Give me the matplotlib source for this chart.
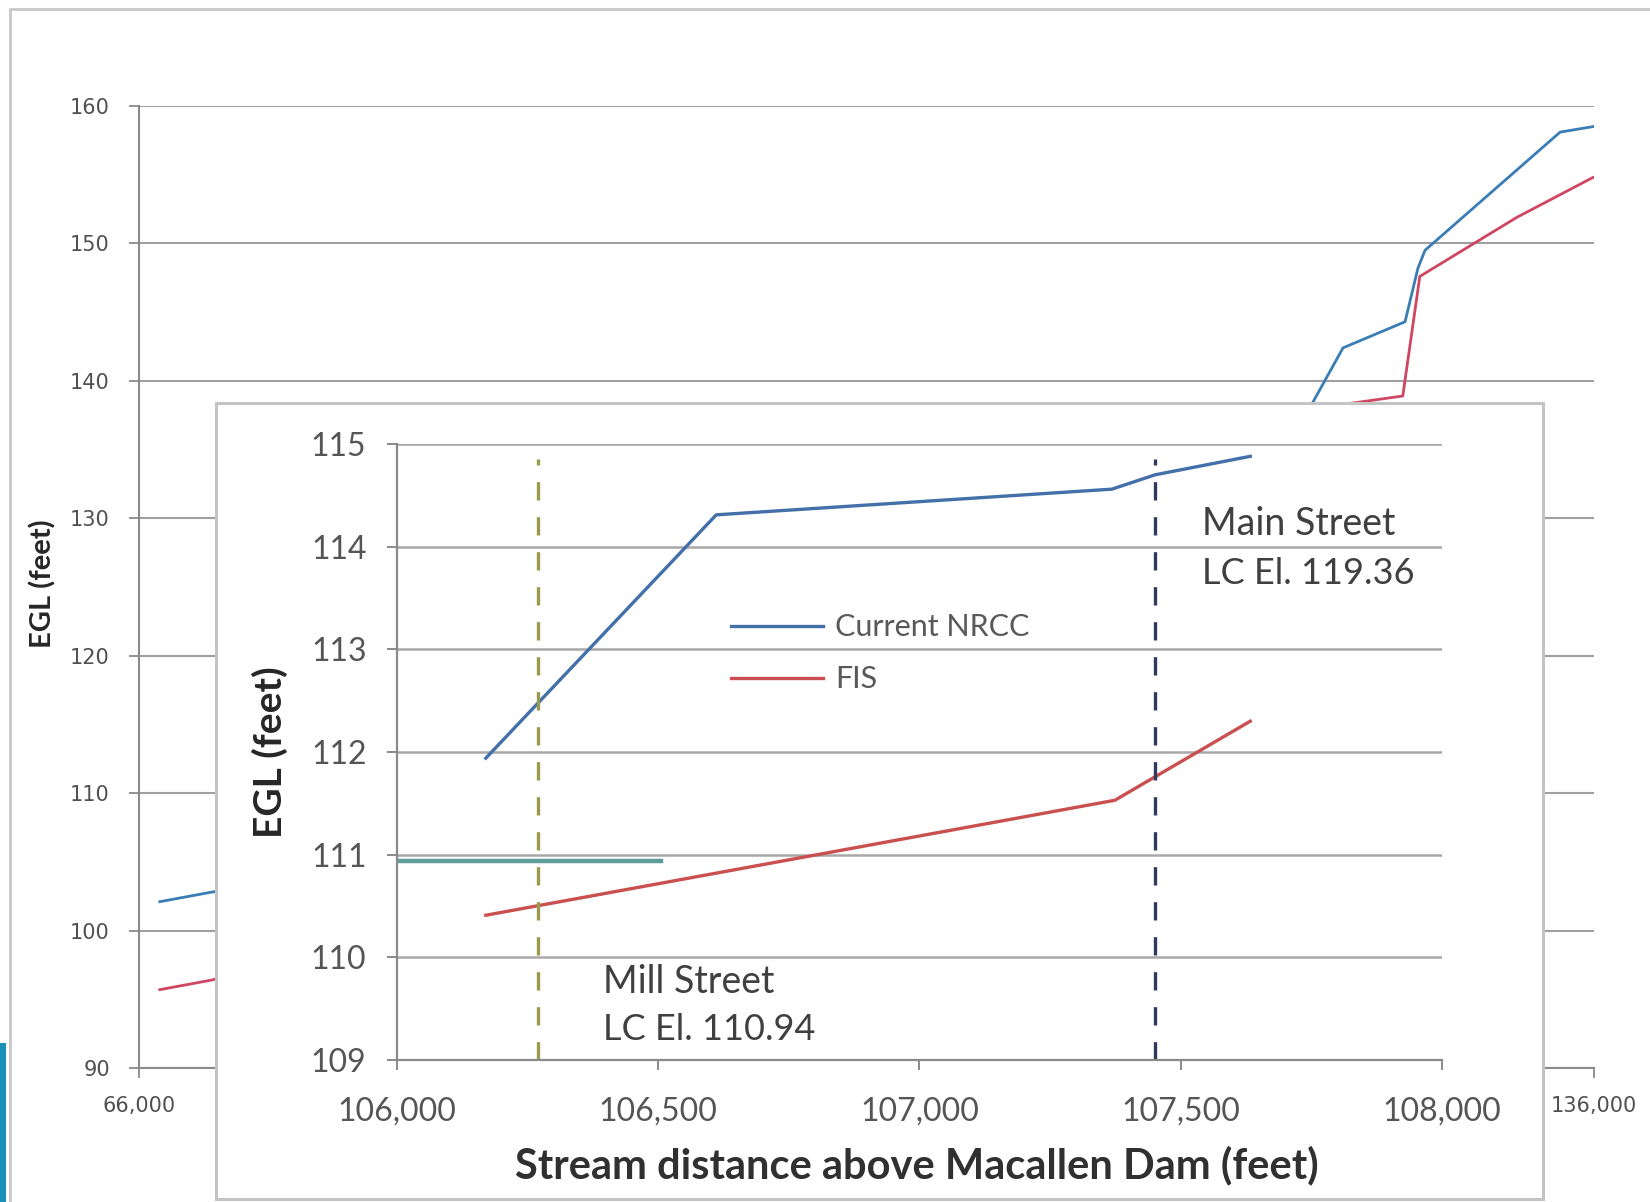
import matplotlib.pyplot as plt
from matplotlib.patches import Rectangle
from matplotlib.ticker import FuncFormatter

plt.rcParams['font.family'] = ['Lato', 'DejaVu Sans']

# ---------------- full reach profile (background chart) ----------------
reach_x_nrcc = [67000, 69500, 85000, 106200, 106600, 107400, 107650, 115000,
                121800, 123925, 126910, 127530, 127870, 134370, 135950]
reach_nrcc = [102.1, 102.8, 106.0, 112.0, 114.3, 114.6, 114.9, 125.0,
              136.6, 142.4, 144.3, 148.2, 149.5, 158.1, 158.5]
reach_x_fis = [67000, 69500, 106200, 107400, 107650, 124000, 126800,
               127620, 132290, 135950]
reach_fis = [95.7, 96.4, 110.4, 111.6, 112.3, 138.3, 138.9, 147.6, 151.9, 154.8]
reach_xticks = [66000, 136000]
reach_yticks = list(range(90, 161, 10))

# ---------------- detail between 106,000 and 108,000 ----------------
nrcc_x = [106170, 106611, 107368, 107451, 107633]
nrcc_egl = [111.94, 114.31, 114.56, 114.70, 114.88]
fis_x = [106170, 107374, 107633]
fis_egl = [110.41, 111.53, 112.30]
lc_x = [106000, 106505]
lc_egl = [110.94, 110.94]
bridge_names = ['Mill Street', 'Main Street']
bridge_x = [106270, 107450]
bridge_lc = [110.94, 119.36]
bridge_colors = ['#9a9a4c', '#2f3a5c']
detail_xticks = list(range(106000, 108001, 500))
detail_yticks = list(range(109, 116))

W, H = 1650, 1202
fig = plt.figure(figsize=(W / 100, H / 100), dpi=100)

comma = FuncFormatter(lambda v, p: f'{int(v):,}')

# outer frame
fig.add_artist(Rectangle((10 / W, -0.05), 1.0, 1 - 9 / H + 0.05, transform=fig.transFigure,
                         facecolor='none', edgecolor='#c8c8c8', lw=2.0, zorder=-1))

# ---------------- background chart ----------------
ax0 = fig.add_axes([139 / W, 1 - 1068 / H, 1455 / W, 962 / H])
ax0.set_zorder(0)
ax0.plot(reach_x_nrcc, reach_nrcc, color='#3a7db5', lw=2.0)
ax0.plot(reach_x_fis, reach_fis, color='#d04662', lw=2.0)
ax0.set_xlim(66000, 136000)
ax0.set_ylim(90, 160)
ax0.set_xticks(reach_xticks)
ax0.set_yticks(reach_yticks)
ax0.xaxis.set_major_formatter(comma)
ax0.grid(axis='y', color='#a0a0a0', lw=1.5)
ax0.set_axisbelow(True)
for s in ['top', 'right']:
    ax0.spines[s].set_visible(False)
for s in ['left', 'bottom']:
    ax0.spines[s].set_color('#8a8a8a')
    ax0.spines[s].set_linewidth(1.5)
ax0.tick_params(direction='out', length=7, width=1.3, color='#8a8a8a',
                labelsize=15, labelcolor='#505050')
ax0.tick_params(axis='y', pad=14)
ax0.tick_params(axis='x', pad=13)
for lab in ax0.get_xticklabels() + ax0.get_yticklabels():
    lab.set_family('DejaVu Sans')
ax0.set_ylabel('EGL (feet)', fontsize=21, fontweight='bold', color='#262626')
ax0.yaxis.set_label_coords(-0.057, 0.503)

# white panel holding the detail chart
fig.add_artist(Rectangle((216 / W, 1 - 1199 / H), (1543 - 216) / W, (1199 - 403) / H,
                         transform=fig.transFigure, facecolor='white',
                         edgecolor='#c4c4c4', lw=2.2, zorder=1))

# slide accent on the left edge
fig.add_artist(Rectangle((0, 1 - 1202 / H), 6 / W, (1202 - 1043) / H,
                         transform=fig.transFigure, facecolor='#1a8fb8',
                         edgecolor='none', zorder=3))

# ---------------- detail chart ----------------
ax1 = fig.add_axes([397 / W, 1 - 1060 / H, 1045 / W, 616 / H])
ax1.set_zorder(2)
ax1.set_facecolor('none')
ax1.plot(nrcc_x, nrcc_egl, color='#4470aa', lw=2.4, label='Current NRCC')
ax1.plot(fis_x, fis_egl, color='#c9504f', lw=2.4, label='FIS')
ax1.plot(lc_x, lc_egl, color='#5e9c9a', lw=3.2)
ax1.vlines(bridge_x, 109, 114.85, colors=bridge_colors, lw=2.4,
           linestyles=[(0, (5.5, 5))] * 2)
ax1.set_xlim(106000, 108000)
ax1.set_ylim(109, 115)
ax1.set_xticks(detail_xticks)
ax1.set_yticks(detail_yticks)
ax1.xaxis.set_major_formatter(comma)
ax1.grid(axis='y', color='#a8a8a8', lw=1.8)
ax1.set_axisbelow(True)
for s in ['top', 'right']:
    ax1.spines[s].set_visible(False)
for s in ['left', 'bottom']:
    ax1.spines[s].set_color('#8a8a8a')
    ax1.spines[s].set_linewidth(1.6)
ax1.tick_params(direction='out', length=7, width=1.4, color='#8a8a8a',
                labelsize=23, labelcolor='#555555')
ax1.tick_params(axis='y', pad=15)
ax1.tick_params(axis='x', pad=19)
ax1.set_xlabel('Stream distance above Macallen Dam (feet)', fontsize=30,
               fontweight='bold', color='#303030')
ax1.xaxis.set_label_coords(0.4976, -0.138)
ax1.set_ylabel('EGL (feet)', fontsize=28, fontweight='bold', color='#262626')
ax1.yaxis.set_label_coords(-0.104, 0.5)

ax1.legend(loc='upper left', bbox_to_anchor=(0.3196, 0.725), frameon=False,
           fontsize=22, labelcolor='#595959', handlelength=3.0,
           handletextpad=0.42, borderpad=0, borderaxespad=0, labelspacing=0.78)

# bridge low chord notes
ax1.text(106394, 109.76, bridge_names[0], fontsize=27, color='#404040', va='center')
ax1.text(106394, 109.30, f'LC El. {bridge_lc[0]:.2f}', fontsize=26, color='#404040',
         va='center')
ax1.text(107541, 114.22, bridge_names[1], fontsize=27, color='#404040', va='center')
ax1.text(107541, 113.74, f'LC El. {bridge_lc[1]:.2f}', fontsize=26, color='#404040',
         va='center')

fig.savefig('out.png', dpi=100)
